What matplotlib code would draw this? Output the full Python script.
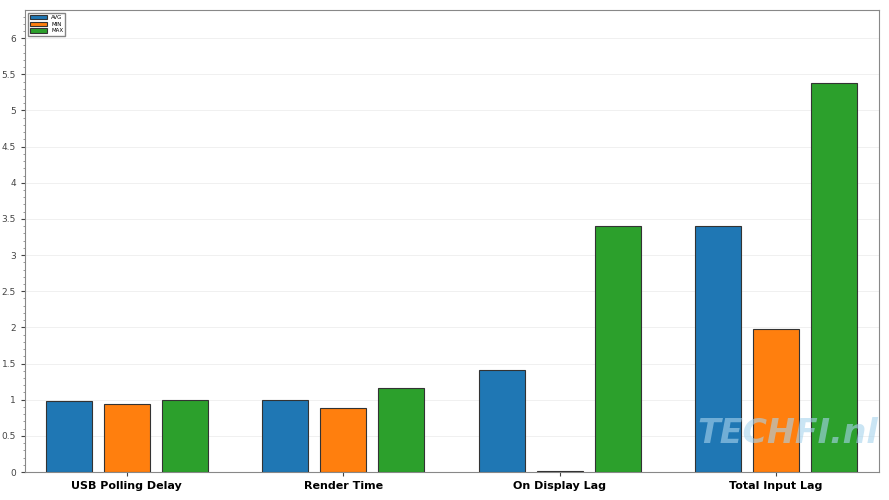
import matplotlib.pyplot as plt
import numpy as np
from matplotlib.ticker import MultipleLocator, FuncFormatter

categories = ["USB Polling Delay", "Render Time", "On Display Lag", "Total Input Lag"]
avg_vals = [0.98, 1.00, 1.41, 3.40]
min_vals = [0.94, 0.88, 0.01, 1.98]
max_vals = [1.00, 1.16, 3.40, 5.38]

series = [("AVG", avg_vals, "#1f77b4"), ("MIN", min_vals, "#ff7f0e"), ("MAX", max_vals, "#2ca02c")]

fig = plt.figure(figsize=(8.89, 5), dpi=100)
ax = fig.add_axes([0.028, 0.056, 0.961, 0.924])

x = np.arange(len(categories))
step = 0.268
width = 0.212
for i, (name, vals, color) in enumerate(series):
    ax.bar(x + (i - 1) * step, vals, width, color=color, edgecolor="#333333",
           linewidth=0.8, label=name, zorder=3)

ax.set_xlim(-0.47, 3.476)
ax.set_ylim(0, 6.39)
ax.set_xticks(x)
ax.set_xticklabels(categories, fontsize=8, fontweight="bold")
ax.yaxis.set_major_locator(MultipleLocator(0.5))
ax.yaxis.set_minor_locator(MultipleLocator(0.1))
ax.yaxis.set_major_formatter(FuncFormatter(lambda v, p: f"{v:g}"))
ax.tick_params(axis="y", labelsize=6.5, colors="#444444", length=3)
ax.tick_params(axis="y", which="minor", length=1.5, colors="#888888")
ax.tick_params(axis="x", length=3, colors="#444444", labelcolor="black")
ax.grid(axis="y", color="#eeeeee", linewidth=0.6, zorder=0)
for s in ax.spines.values():
    s.set_color("#888888")

ax.legend(loc="upper left", fontsize=4, frameon=True, fancybox=False,
          edgecolor="#666666", borderpad=0.4, handlelength=3, handleheight=0.8,
          labelspacing=0.3, bbox_to_anchor=(0.0, 1.0))

# watermark
ax.text(0.787, 0.084, "TECHFI.nl", transform=ax.transAxes, fontsize=24,
        fontweight="bold", fontstyle="italic", color="#a8d4ee", alpha=0.6,
        ha="left", va="center", zorder=5, clip_on=True)

fig.savefig("out.png", dpi=100)
